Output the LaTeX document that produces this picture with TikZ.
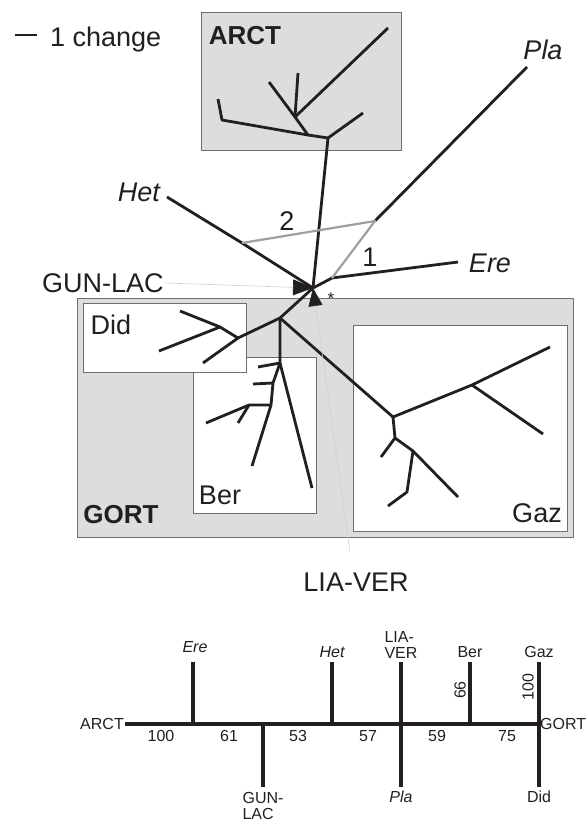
\documentclass[tikz,border=0pt]{standalone}
\usepackage{fontspec}
\setmainfont{Liberation Sans}
\usetikzlibrary{arrows.meta}

\definecolor{ink}{HTML}{231F20}
\definecolor{shade}{HTML}{9D9FA2}
\definecolor{panel}{HTML}{DCDDDF}
\definecolor{frame}{HTML}{6D6E71}
\definecolor{faint}{HTML}{CFCFCF}

\tikzset{
  branch/.style={draw=ink,line width=2.8pt,line join=round},
  link/.style={draw=shade,line width=2.2pt,line join=round},
  clade/.style={fill=panel,draw=frame,line width=0.9pt},
  inset/.style={fill=white,draw=frame,line width=0.9pt},
  pointer/.style={draw=faint,line width=0.6pt},
  support/.style={draw=ink,line width=4pt},
  small/.style={font=\fontsize{16}{16}\selectfont,inner sep=1pt}
}

\begin{document}
\begin{tikzpicture}[x=1pt,y=-1pt,font=\fontsize{27}{30}\selectfont,text=ink,inner sep=1pt]
  \useasboundingbox (0,0) rectangle (587,822);

  % scale bar
  \draw[branch] (15,35) -- (37,35);
  \node[anchor=west] (scale) at (49,40) {1 change};

  % clade panels; Did overlaps Ber, so it goes last
  \filldraw[clade] (201,12) rectangle (401,150);
  \filldraw[clade] (77,298) rectangle (573,537);
  \filldraw[inset] (193,357) rectangle (316,513);
  \filldraw[inset] (353,325) rectangle (567,531);
  \filldraw[inset] (83,303) rectangle (246,372);
  \node[font=\fontsize{26}{30}\selectfont\bfseries] (arct) at (245,36) {ARCT};
  \node[font=\fontsize{26}{30}\selectfont\bfseries] (gort) at (121,515) {GORT};
  \node (did) at (111,325) {Did};
  \node (ber) at (220,495) {Ber};
  \node (gaz) at (537,513) {Gaz};

  % inner nodes of the network
  \coordinate (J) at (313,288);
  \coordinate (C) at (328,138);
  \coordinate (B) at (308,135);
  \coordinate (A) at (295,117);
  \coordinate (D) at (332,278);
  \coordinate (E) at (375,221);
  \coordinate (F) at (242,243);
  \coordinate (G) at (280,318);
  \coordinate (H) at (280,363);
  \coordinate (I) at (238,338);
  \coordinate (L) at (220,327);
  \coordinate (K) at (393,417);
  \coordinate (M) at (472,385);
  \coordinate (N) at (395,438);
  \coordinate (O) at (413,451);
  \coordinate (P) at (407,492);
  \coordinate (R) at (273,383);
  \coordinate (Q) at (271,405);
  \coordinate (S) at (249,405);

  % ARCT
  \draw[branch] (J) -- (C) -- (B) -- (A) -- (388,28);
  \draw[branch] (A) -- (298,73);
  \draw[branch] (A) -- (269,82);
  \draw[branch] (B) -- (222,120) -- (218,99);
  \draw[branch] (C) -- (363,113);

  % single taxa and the reticulation
  \draw[branch] (J) -- (F) -- (167,197);
  \draw[branch] (J) -- (D) -- (458,262);
  \draw[branch] (E) -- (527,67);
  \draw[link] (F) -- (E) -- (D);
  \node[font=\fontsize{27}{30}\selectfont\itshape] (het) at (139,192) {Het};
  \node[font=\fontsize{27}{30}\selectfont\itshape] (ere) at (490,263) {Ere};
  \node[font=\fontsize{27}{30}\selectfont\itshape] (pla) at (543,50) {Pla};
  \node (two) at (287,221) {2};
  \node (one) at (370,257) {1};

  % GORT
  \draw[branch] (J) -- (G) -- (H);
  \draw[branch] (G) -- (I) -- (L) -- (180,311);
  \draw[branch] (L) -- (159,351);
  \draw[branch] (I) -- (203,363);
  \draw[branch] (H) -- (312,488);
  \draw[branch] (H) -- (258,367);
  \draw[branch] (H) -- (R) -- (Q) -- (252,466);
  \draw[branch] (R) -- (253,384);
  \draw[branch] (Q) -- (S) -- (206,423);
  \draw[branch] (S) -- (238,423);
  \draw[branch] (G) -- (K) -- (M) -- (550,347);
  \draw[branch] (M) -- (543,434);
  \draw[branch] (K) -- (N) -- (381,457);
  \draw[branch] (N) -- (O) -- (458,497);
  \draw[branch] (O) -- (P) -- (388,506);

  % attachment points of GUN-LAC and LIA-VER
  \node (gunlac) at (103,283) {GUN-LAC};
  \node (liaver) at (356,582) {LIA-VER};
  \coordinate (lvend) at (350,552);
  \draw[pointer,-{Triangle[length=20pt,width=16pt,color=ink]}] (gunlac.east) -- (J);
  \draw[pointer,-{Triangle[length=18pt,width=14pt,color=ink]}] (lvend) -- (J);
  \node[font=\fontsize{17}{17}\selectfont] (star) at (331,299) {*};

  % consensus tree with bootstrap values
  \coordinate (tarct) at (125,724);
  \coordinate (tere) at (193,724);
  \coordinate (tgun) at (263,724);
  \coordinate (thet) at (332,724);
  \coordinate (tlia) at (401,724);
  \coordinate (tber) at (470,724);
  \coordinate (tgort) at (539,724);
  \draw[support] (tarct) -- (tgort);
  \draw[support] (tere) -- ++(0,-62);
  \draw[support] (tgun) -- ++(0,63);
  \draw[support] (thet) -- ++(0,-62);
  \draw[support] (tlia) -- ++(0,-62);
  \draw[support] (tlia) -- ++(0,63);
  \draw[support] (tber) -- ++(0,-62);
  \draw[support] (tgort) -- ++(0,-62);
  \draw[support] (tgort) -- ++(0,63);

  \node[small,anchor=east] (larct) at (tarct) {ARCT};
  \node[small,anchor=west] (lgort) at (tgort) {GORT};
  \node[small,font=\fontsize{16}{16}\selectfont\itshape] (lere) at (195,647) {Ere};
  \node[small,font=\fontsize{16}{16}\selectfont\itshape] (lhet) at (332,652) {Het};
  \node[small,anchor=south,align=left] (llia) at (401,660) {LIA-\\VER};
  \node[small] (lber) at (470,652) {Ber};
  \node[small] (lgaz) at (539,652) {Gaz};
  \node[small,anchor=north,align=left] (lgun) at (263,791) {GUN-\\LAC};
  \node[small,font=\fontsize{16}{16}\selectfont\itshape] (lpla) at (401,797) {Pla};
  \node[small] (ldid) at (539,797) {Did};

  \node[small] at (161,736) {100};
  \node[small] at (229,736) {61};
  \node[small] at (298,736) {53};
  \node[small] at (368,736) {57};
  \node[small] at (437,736) {59};
  \node[small] at (507,736) {75};
  \node[small,rotate=90] at (460,690) {66};
  \node[small,rotate=90] at (528,687) {100};
\end{tikzpicture}
\end{document}
